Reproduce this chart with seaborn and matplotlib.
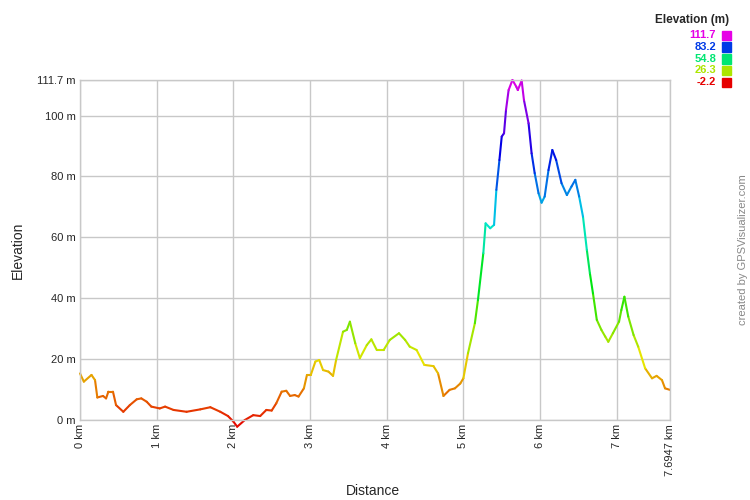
import matplotlib
matplotlib.use("Agg")
import matplotlib.pyplot as plt
from matplotlib.colors import hsv_to_rgb
import seaborn as sns
import numpy as np
import pandas as pd

# elevation profile (km, m)
distance_km = [0.00, 0.05, 0.15, 0.196, 0.226, 0.30, 0.34, 0.37, 0.43, 0.47,
               0.565, 0.65, 0.74, 0.80, 0.87, 0.93, 1.04, 1.11, 1.22, 1.39,
               1.57, 1.70, 1.83, 1.93, 2.00, 2.05, 2.15, 2.26, 2.35, 2.43,
               2.50, 2.56, 2.63, 2.69, 2.74, 2.80, 2.85, 2.92, 2.96, 3.01,
               3.07, 3.12, 3.17, 3.24, 3.30, 3.34, 3.43, 3.48, 3.52, 3.59,
               3.65, 3.74, 3.80, 3.87, 3.96, 4.04, 4.16, 4.24, 4.30, 4.39,
               4.49, 4.61, 4.67, 4.74, 4.82, 4.89, 4.96, 5.00, 5.06, 5.15,
               5.19, 5.26, 5.29, 5.35, 5.40, 5.43, 5.47, 5.50, 5.53, 5.556,
               5.59, 5.64, 5.69, 5.71, 5.76, 5.79, 5.85, 5.89, 5.93, 5.98,
               6.02, 6.06, 6.11, 6.16, 6.21, 6.28, 6.35, 6.41, 6.46, 6.51,
               6.56, 6.61, 6.65, 6.69, 6.74, 6.80, 6.85, 6.89, 6.95, 7.03,
               7.06, 7.10, 7.15, 7.22, 7.28, 7.37, 7.46, 7.52, 7.59, 7.63,
               7.6947]
elevation_m = [15.3, 12.6, 14.8, 13.1, 7.4, 7.9, 7.1, 9.3, 9.3, 4.9,
               2.7, 4.9, 6.8, 7.1, 6.0, 4.4, 3.8, 4.4, 3.3, 2.7,
               3.5, 4.2, 2.7, 1.3, -0.5, -2.2, 0.0, 1.6, 1.3, 3.3,
               3.1, 5.5, 9.3, 9.6, 7.9, 8.2, 7.7, 10.4, 14.8, 14.8,
               19.2, 19.7, 16.4, 15.9, 14.5, 19.7, 29.0, 29.6, 32.3, 25.2,
               20.3, 24.6, 26.5, 23.0, 23.0, 26.3, 28.5, 26.3, 24.1, 23.0,
               18.1, 17.7, 15.3, 7.9, 9.9, 10.4, 12.0, 13.7, 21.9, 31.8,
               39.4, 54.8, 64.6, 63.0, 64.1, 75.6, 85.4, 93.1, 94.2, 101.9,
               108.4, 111.7, 109.5, 108.4, 111.5, 105.1, 97.5, 87.6, 81.1, 74.5,
               71.4, 73.4, 82.1, 88.7, 85.4, 77.8, 73.9, 76.7, 78.9, 73.4,
               66.8, 55.9, 48.2, 41.6, 32.9, 29.6, 27.4, 25.7, 28.5, 32.3,
               36.1, 40.5, 34.0, 27.9, 24.1, 17.0, 13.7, 14.5, 13.1, 10.4,
               9.9]

legend_values = [111.7, 83.2, 54.8, 26.3, -2.2]
x_ticks = [0, 1, 2, 3, 4, 5, 6, 7, 7.6947]
x_labels = ["0 km", "1 km", "2 km", "3 km", "4 km", "5 km", "6 km", "7 km", "7.6947 km"]
y_ticks = [0, 20, 40, 60, 80, 100, 111.7]
y_labels = ["0 m", "20 m", "40 m", "60 m", "80 m", "100 m", "111.7 m"]

e_min, e_max = -2.2, 111.7


def elev_color(v):
    # red -> yellow -> green -> cyan -> blue -> magenta
    h = (v - e_min) / (e_max - e_min) * 300.0 / 360.0
    return tuple(hsv_to_rgb([h, 1.0, 0.9]))


sns.set_style("white")
plt.rcParams['font.family'] = ['Liberation Sans', 'DejaVu Sans']

# one short line per step so every piece gets its own elevation colour
rows = []
for i in range(len(distance_km) - 1):
    mid = (elevation_m[i] + elevation_m[i + 1]) / 2
    for j in (i, i + 1):
        rows.append({"seg": i, "km": distance_km[j], "m": elevation_m[j], "mid": mid})
df = pd.DataFrame(rows)
palette = {m: elev_color(m) for m in df["mid"].unique()}

fig = plt.figure(figsize=(7.5, 5), dpi=100)
ax = fig.add_axes([80 / 750, 80 / 500, 590 / 750, 340 / 500])

sns.lineplot(data=df, x="km", y="m", hue="mid", units="seg", estimator=None,
             palette=palette, legend=False, linewidth=1.5, ax=ax)
for line in ax.lines:
    line.set_clip_on(False)
    line.set_solid_capstyle("round")

ax.set_xlim(0, 7.6947)
ax.set_ylim(0, 111.7)
ax.set_xticks(x_ticks)
ax.set_xticklabels(x_labels, rotation=90, fontsize=8)
ax.set_yticks(y_ticks)
ax.set_yticklabels(y_labels, fontsize=8)
ax.tick_params(length=0, pad=3)
ax.grid(True, color="#c8c8c8", linewidth=1)
ax.set_axisbelow(True)
for s in ax.spines.values():
    s.set_color("#c8c8c8")
    s.set_linewidth(1)

ax.set_xlabel("")
ax.set_ylabel("")
fig.text(18 / 750, 1 - 250 / 500, "Elevation", rotation=90, ha="center", va="center", fontsize=10)
fig.text(373 / 750, 1 - 491 / 500, "Distance", ha="center", va="center", fontsize=10)

# colour key top right
fig.text(729 / 750, 1 - 20 / 500, "Elevation (m)", ha="right", va="center",
         fontsize=8.5, fontweight="bold")
for k, v in enumerate(legend_values):
    yy = 1 - (35 + k * 11.8) / 500
    fig.text(716 / 750, yy, f"{v:.1f}", ha="right", va="center", fontsize=8,
             fontweight="bold", color=elev_color(v))
    fig.patches.append(plt.Rectangle((722 / 750, yy - 5 / 500), 9 / 750, 9.5 / 500,
                                     transform=fig.transFigure, color=elev_color(v)))

fig.text(743 / 750, 1 - 250 / 500, "created by GPSVisualizer.com", rotation=90,
         ha="center", va="center", fontsize=8, color="#888888")

fig.savefig("out.png", dpi=100)
